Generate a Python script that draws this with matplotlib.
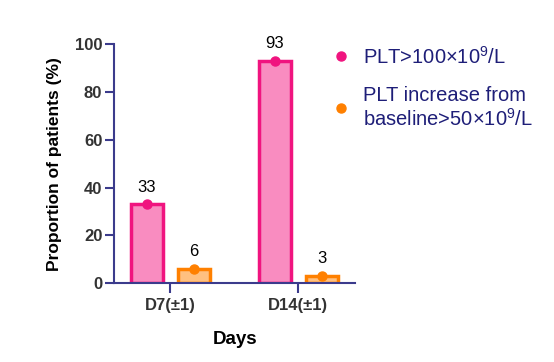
import numpy as np
import matplotlib.pyplot as plt
from matplotlib.lines import Line2D

plt.rcParams['font.family'] = ['Liberation Sans', 'DejaVu Sans']
plt.rcParams['mathtext.fontset'] = 'custom'
plt.rcParams['mathtext.rm'] = 'Liberation Sans'

# Data
days = ['D7(±1)', 'D14(±1)']
plt_over_100 = [33, 93]
plt_increase_50 = [6, 3]
series_labels = ['PLT>100×10$^{9}$/L', 'PLT increase from\nbaseline>50×10$^{9}$/L']

pink_edge = '#f0147f'
pink_face = '#f98cc0'
orange_edge = '#ff8000'
orange_face = '#ffc080'
navy = '#3b3b8c'
text_navy = '#1e1e78'

fig = plt.figure(figsize=(5.54, 3.62), dpi=100)
ax = fig.add_axes([0.206, 0.218, 0.435, 0.660])

x = np.arange(len(days))
w = 0.25
off = 0.184

ax.bar(x - off, plt_over_100, w, color=pink_face, edgecolor=pink_edge, linewidth=2.5)
ax.bar(x + off, plt_increase_50, w, color=orange_face, edgecolor=orange_edge, linewidth=2.5)
ax.plot(x - off, plt_over_100, 'o', color=pink_edge, markersize=6.5, zorder=5)
ax.plot(x + off, plt_increase_50, 'o', color=orange_edge, markersize=6.5, zorder=5)

for xi, v in zip(x - off, plt_over_100):
    ax.text(xi, v + 4, str(v), ha='center', va='bottom', fontsize=12, color='black')
for xi, v in zip(x + off, plt_increase_50):
    ax.text(xi, v + 4, str(v), ha='center', va='bottom', fontsize=12, color='black')

ax.set_xlim(-0.4375, 1.445)
ax.set_ylim(0, 100)
ax.set_yticks([0, 20, 40, 60, 80, 100])
ax.set_xticks(x)
ax.set_xticklabels(days)

for s in ['top', 'right']:
    ax.spines[s].set_visible(False)
for s in ['left', 'bottom']:
    ax.spines[s].set_color(navy)
    ax.spines[s].set_linewidth(1.5)

ax.tick_params(axis='y', colors=navy, width=1.5, length=6.5, pad=2, labelsize=12, labelcolor='#333333')
ax.tick_params(axis='x', colors=navy, width=1.5, length=7, labelsize=12, labelcolor='#333333')
for lbl in ax.get_xticklabels() + ax.get_yticklabels():
    lbl.set_fontweight('bold')

ax.set_ylabel('Proportion of patients (%)', fontsize=12.5, fontweight='bold', labelpad=9)
ax.set_xlabel('Days', fontsize=13.5, fontweight='bold', labelpad=13)

handles = [Line2D([], [], marker='o', linestyle='', color=pink_edge, markersize=6.5),
           Line2D([], [], marker='o', linestyle='', color=orange_edge, markersize=6.5)]
ax.legend(handles, series_labels, loc='upper left', bbox_to_anchor=(0.817, 1.07),
          frameon=False, fontsize=14.5, labelcolor=text_navy, handletextpad=0.5,
          labelspacing=0.9, handlelength=1.2)

fig.savefig('out.png', dpi=100)
